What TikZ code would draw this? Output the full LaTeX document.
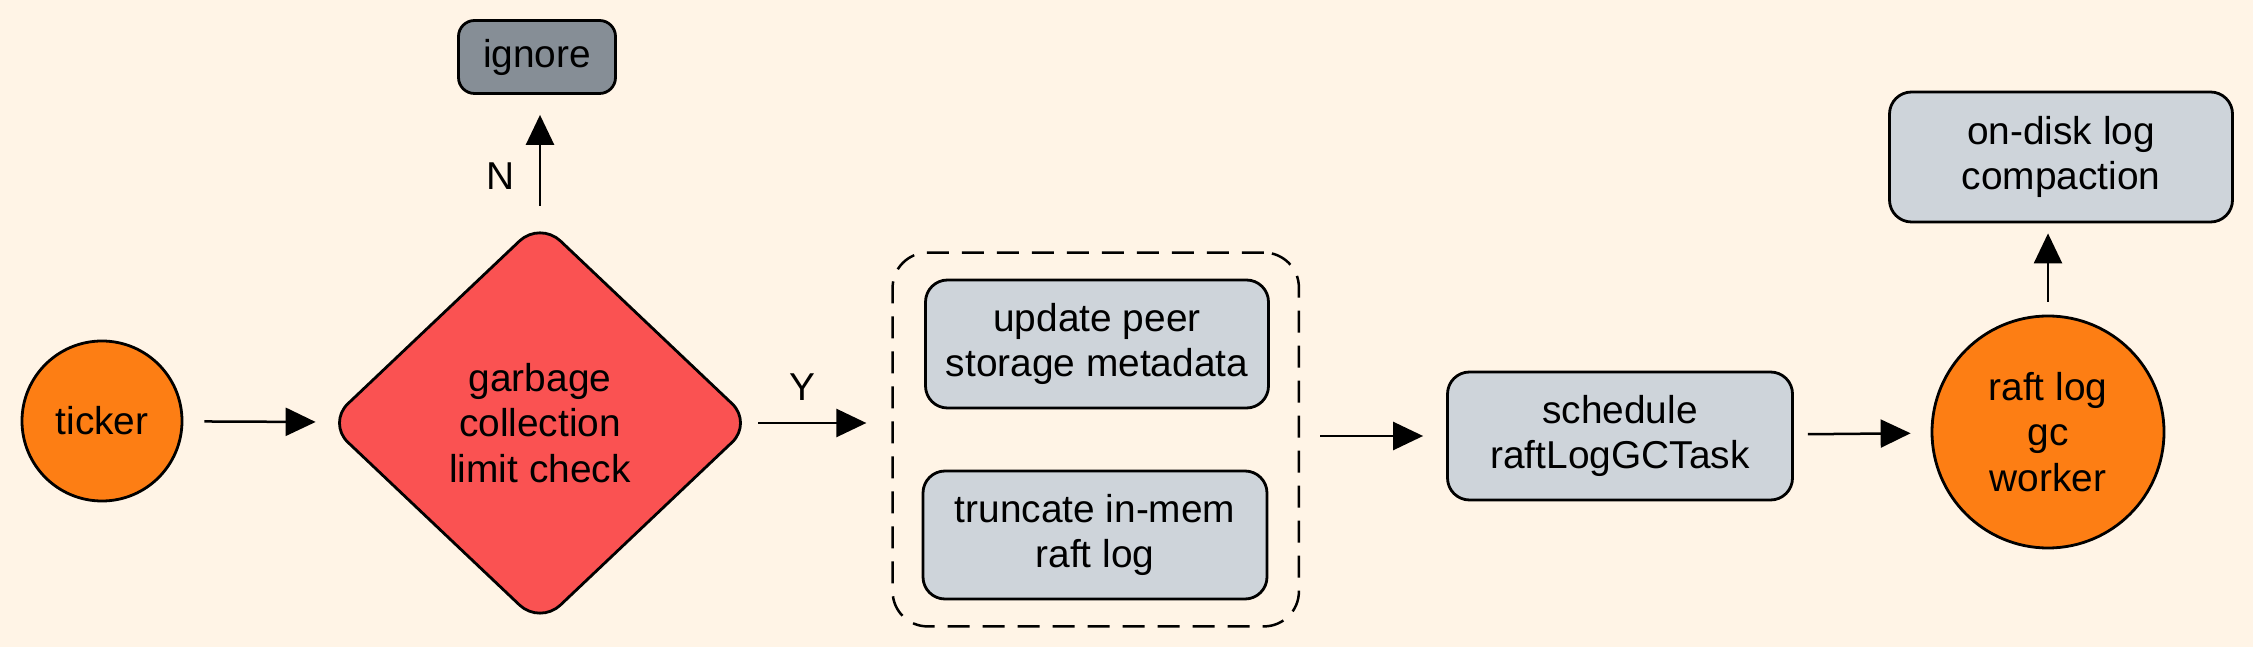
\documentclass[tikz,border=0pt]{standalone}
\usepackage{fontspec}
\setmainfont{Liberation Sans}
\usetikzlibrary{arrows.meta,shapes.geometric,fit}

\definecolor{paper}{HTML}{FFF4E6}
\definecolor{workerorange}{HTML}{FD7E14}
\definecolor{checkred}{HTML}{FA5252}
\definecolor{taskgray}{HTML}{CED4DA}
\definecolor{ignoregray}{HTML}{868E96}

\begin{document}
\begin{tikzpicture}[>={Triangle[length=30bp,width=28bp]},line join=round]
 \tikzstyle{every node}=[font=\fontsize{39}{46}\selectfont]
 \tikzstyle{worker}=[circle,draw,line width=2.8bp,fill=workerorange,align=center,inner sep=0pt]
 \tikzstyle{task}=[rectangle,rounded corners=22bp,draw,line width=2.8bp,fill=taskgray,align=center,inner sep=0pt]
 \tikzstyle{flow}=[->,line width=2.5bp]
 \tikzstyle{branch}=[inner sep=0pt]

 \fill[paper] (0,0) rectangle (2253bp,647bp);
 \useasboundingbox (0,0) rectangle (2253bp,647bp);

 \node (ticker) at (102bp,226bp) [worker, minimum size=160bp] {ticker};
 \node (check) at (540bp,224bp) [diamond, draw, line width=2.8bp, fill=checkred, rounded corners=28bp,
        minimum width=426bp, minimum height=404bp, inner sep=0pt, align=center] {garbage\\collection\\limit check};
 \node (ignore) at (537bp,590bp) [task, fill=ignoregray, rounded corners=16bp, minimum width=157bp, minimum height=73bp] {ignore};

 \node (peer) at (1097bp,303bp) [task, minimum width=343bp, minimum height=128bp] {update peer\\storage metadata};
 \node (trunc) at (1095bp,112bp) [task, minimum width=344bp, minimum height=128bp] {truncate in-mem\\raft log};
 \node (group) [draw, line width=2.5bp, dash pattern=on 22bp off 13bp, rounded corners=35bp,
        inner xsep=29bp, inner ysep=26bp, fit=(peer)(trunc)] {};

 \node (sched) at (1620bp,211bp) [task, minimum width=345bp, minimum height=128bp] {schedule\\raftLogGCTask};
 \node (gcworker) at (2048bp,215bp) [worker, minimum size=232bp] {raft log\\gc\\worker};
 \node (disk) at (2061bp,490bp) [task, minimum width=343bp, minimum height=130bp] {on-disk log\\compaction};

 \draw [flow, shorten <=21bp, shorten >=11bp] (ticker) -- (check);
 \draw [flow, shorten <=14bp, shorten >=20bp] (check.north) -- (check.north |- ignore.south)
        node[branch, pos=0.35, left=24bp] {N};
 \draw [flow, shorten <=4bp, shorten >=25bp] (check.east) -- (check.east -| group.west)
        node[branch, pos=0.35, above=21bp] {Y};
 \draw [flow, shorten <=20bp, shorten >=23bp] (group.east |- sched.west) -- (sched.west);
 \draw [flow, shorten <=14bp, shorten >=20bp] (sched) -- (gcworker);
 \draw [flow, shorten <=13bp, shorten >=10bp] (gcworker.north) -- (gcworker.north |- disk.south);

\end{tikzpicture}
\end{document}
